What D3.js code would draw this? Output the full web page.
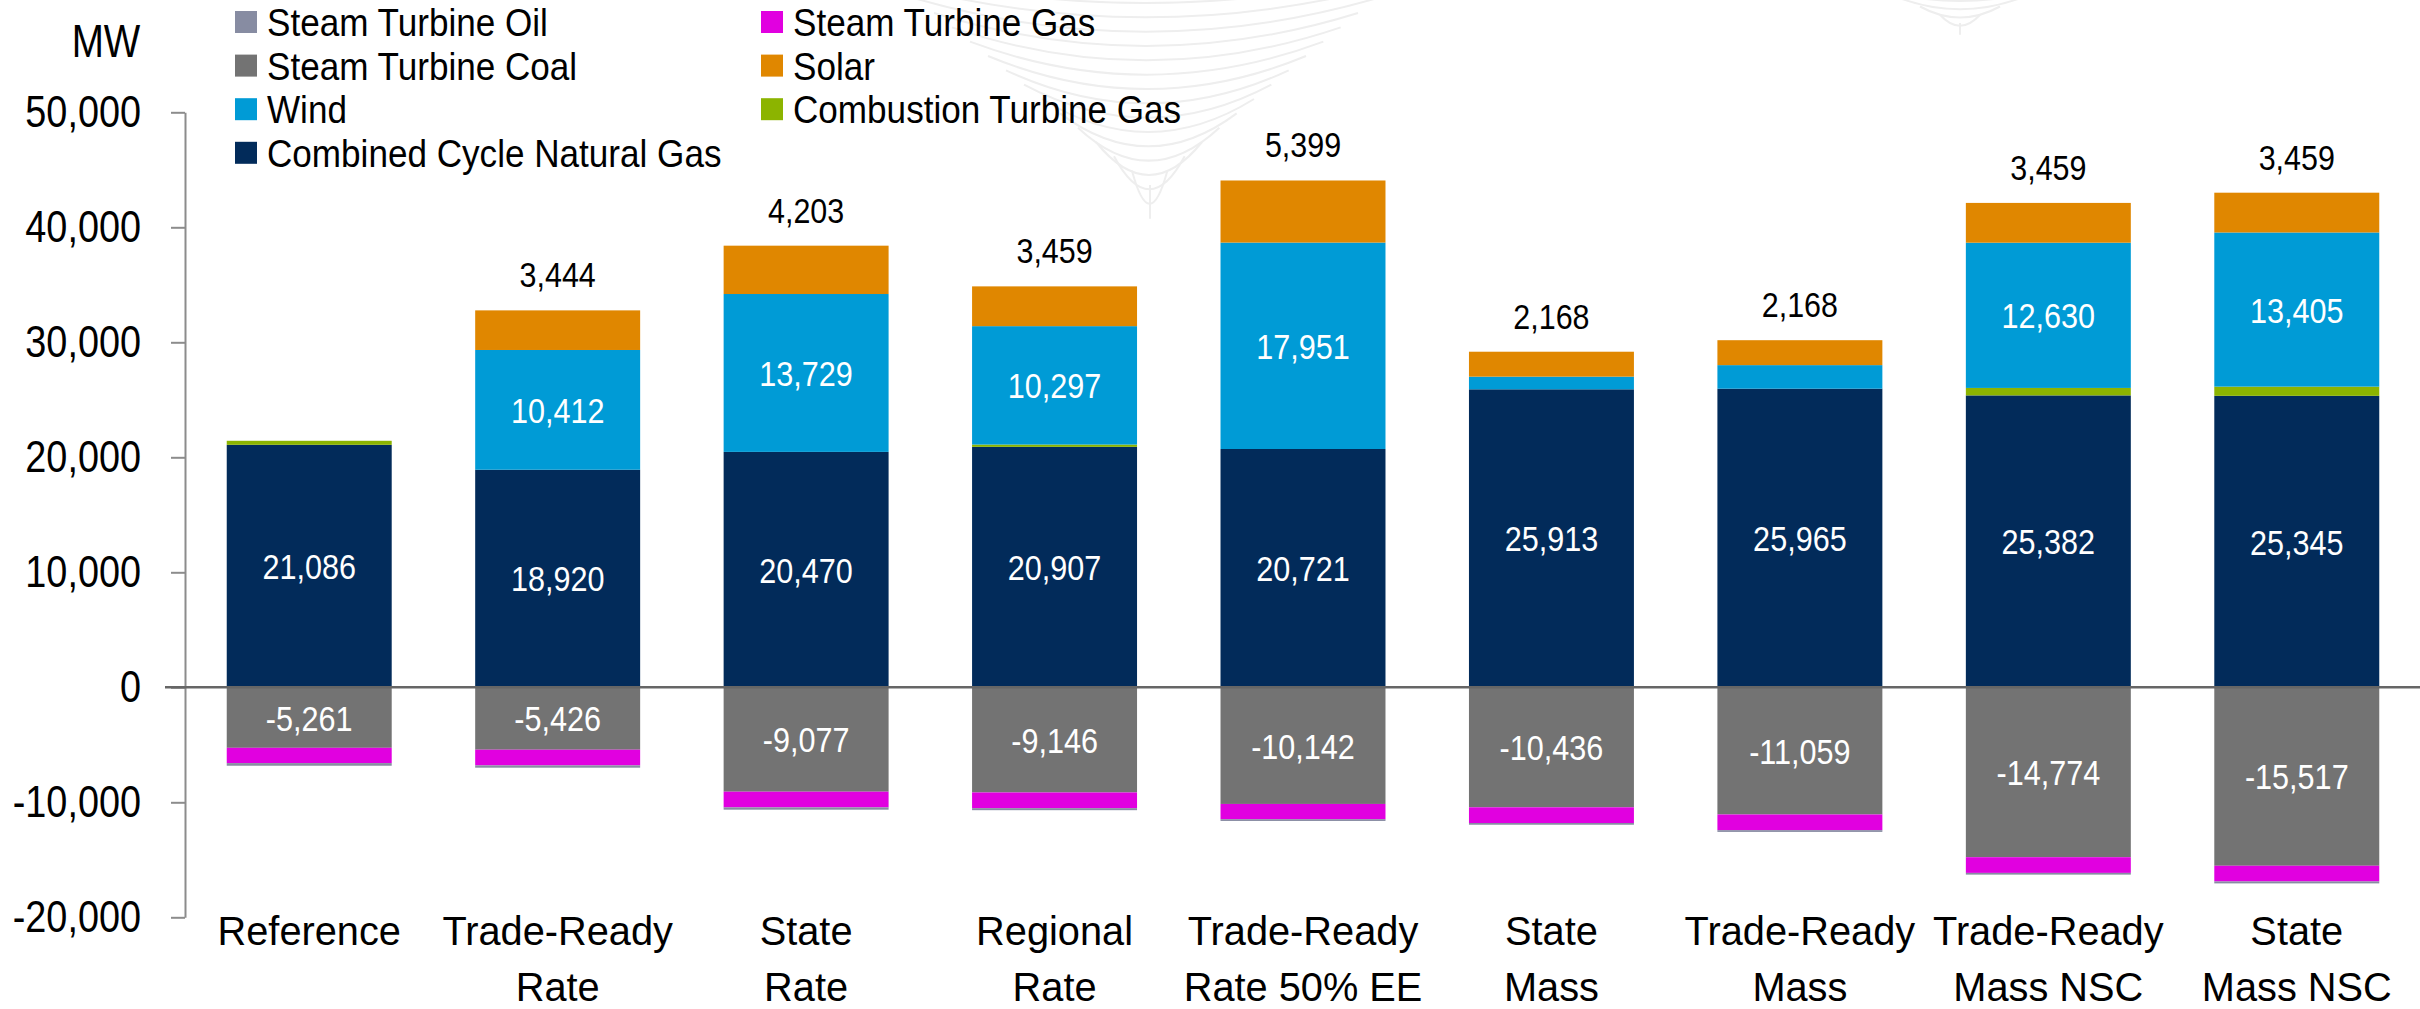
<!DOCTYPE html>
<html>
<head>
<meta charset="utf-8">
<script src="https://cdn.jsdelivr.net/npm/d3@7"></script>
<style>
  body { margin: 0; background: #fff; }
  text { font-family: "Liberation Sans", Arial, sans-serif; }
</style>
</head>
<body>
<script>
// scenarios (two-line labels split on \n)
var categories = ["Reference", "Trade-Ready\nRate", "State\nRate", "Regional\nRate",
  "Trade-Ready\nRate 50% EE", "State\nMass", "Trade-Ready\nMass", "Trade-Ready\nMass NSC", "State\nMass NSC"];

// MW change by technology
var ccng   = [21086, 18920, 20470, 20907, 20721, 25913, 25965, 25382, 25345];
var ctGas  = [350, 0, 0, 200, 0, 0, 0, 650, 800];
var wind   = [0, 10412, 13729, 10297, 17951, 1100, 2050, 12630, 13405];
var solar  = [0, 3444, 4203, 3459, 5399, 2168, 2168, 3459, 3459];
var stCoal = [-5261, -5426, -9077, -9146, -10142, -10436, -11059, -14774, -15517];
var stGas  = [-1330, -1365, -1365, -1365, -1330, -1365, -1365, -1365, -1365];
var stOil  = [-230, -200, -200, -175, -150, -150, -150, -150, -170];

var yTicks = [50000, 40000, 30000, 20000, 10000, 0, -10000, -20000];

var series = [
  {key: "ccng",   name: "Combined Cycle Natural Gas", color: "#022b5a", values: ccng},
  {key: "ctGas",  name: "Combustion Turbine Gas",     color: "#8cb400", values: ctGas},
  {key: "wind",   name: "Wind",                       color: "#009bd6", values: wind},
  {key: "solar",  name: "Solar",                      color: "#e08700", values: solar},
  {key: "stCoal", name: "Steam Turbine Coal",         color: "#737373", values: stCoal},
  {key: "stGas",  name: "Steam Turbine Gas",          color: "#e100e0", values: stGas},
  {key: "stOil",  name: "Steam Turbine Oil",          color: "#878ca2", values: stOil}
];
var legendCols = [["stOil", "stCoal", "wind", "ccng"], ["stGas", "solar", "ctGas"]];

var W = 2420, H = 1009;

var table = categories.map(function(c, i) {
  var row = {cat: c};
  series.forEach(function(s) { row[s.key] = s.values[i]; });
  return row;
});

var fmt = d3.formatLocale({decimal: ".", thousands: ",", grouping: [3], currency: ["", ""], minus: "-"}).format(",");

// turn x/y into a transform so the text can be squeezed horizontally (condensed typeface)
function narrow(sel, k) {
  sel.each(function() {
    var t = d3.select(this);
    var tx = +t.attr("x") || 0, ty = +t.attr("y") || 0;
    t.attr("x", null).attr("y", null)
      .attr("transform", "translate(" + tx + "," + ty + ") scale(" + k + ",1)");
  });
}

var svg = d3.select("body").append("svg")
  .attr("width", W)
  .attr("height", H);

svg.append("rect").attr("width", W).attr("height", H).attr("fill", "#fff");

// faint background swirl
var deco = svg.append("g").attr("fill", "none").attr("stroke", "#eeeeee").attr("stroke-width", 2);
function funnel(x1, x2, bx, by, n, dip) {
  for (var i = 0; i <= n; i++) {
    var t = i / n;
    var yl = t * by, xl = x1 + t * (bx - x1), xr = x2 - t * (x2 - bx);
    deco.append("path")
      .attr("d", "M" + xl + "," + (yl - dip) + "Q" + ((xl + xr) / 2) + "," + (yl + dip * 1.2) + " " + xr + "," + (yl - dip));
  }
}
funnel(880, 1410, 1150, 215, 15, 30);
funnel(1880, 2040, 1960, 33, 4, 10);

var x = d3.scaleBand()
  .domain(categories)
  .range([185, 2421])
  .paddingInner(0.336)
  .paddingOuter(0.168);

var y = d3.scaleLinear()
  .domain([-20000, 50000])
  .range([917.3, 112.3]);

var stack = d3.stack()
  .keys(series.map(function(s) { return s.key; }))
  .offset(d3.stackOffsetDiverging);
var stacked = stack(table);

// y axis
var yAxis = svg.append("g")
  .attr("transform", "translate(185,0)")
  .call(d3.axisLeft(y).tickValues(yTicks).tickFormat(fmt).tickSize(14).tickSizeOuter(0).tickPadding(30));
yAxis.select(".domain").attr("stroke", "#8c8c8c").attr("stroke-width", 2);
yAxis.selectAll(".tick line").attr("stroke", "#8c8c8c").attr("stroke-width", 2);
yAxis.selectAll(".tick text").attr("font-size", 44).attr("fill", "#000")
  .style("font-family", "'Liberation Sans', Arial, sans-serif")
  .call(narrow, 0.86);

svg.append("text").attr("x", 106).attr("y", 57).attr("text-anchor", "middle")
  .attr("font-size", 46).text("MW").call(narrow, 0.84);

// bars
var layers = svg.append("g").selectAll("g")
  .data(stacked)
  .enter().append("g")
  .attr("fill", function(d, i) { return series[i].color; });

layers.selectAll("rect")
  .data(function(d) { return d; })
  .enter().append("rect")
  .attr("x", function(d) { return x(d.data.cat); })
  .attr("width", x.bandwidth())
  .attr("y", function(d) { return y(Math.max(d[0], d[1])); })
  .attr("height", function(d) { return Math.abs(y(d[0]) - y(d[1])); });

// zero line
svg.append("line")
  .attr("x1", 165).attr("x2", W)
  .attr("y1", y(0)).attr("y2", y(0))
  .attr("stroke", "#666").attr("stroke-width", 2.5);

// value labels inside bars
var inside = ["ccng", "wind", "stCoal"];
stacked.forEach(function(layer) {
  if (inside.indexOf(layer.key) < 0) return;
  svg.append("g").selectAll("text")
    .data(layer.filter(function(d) { return Math.abs(d[1] - d[0]) >= 5000; }))
    .enter().append("text")
    .attr("x", function(d) { return x(d.data.cat) + x.bandwidth() / 2; })
    .attr("y", function(d) { return y((d[0] + d[1]) / 2); })
    .attr("dy", "0.36em")
    .attr("text-anchor", "middle")
    .attr("font-size", 36)
    .attr("fill", "#fff")
    .text(function(d) { return fmt(d.data[layer.key]); })
    .call(narrow, 0.85);
});

// solar totals above bars
var solarLayer = stacked[series.map(function(s) { return s.key; }).indexOf("solar")];
svg.append("g").selectAll("text")
  .data(solarLayer.filter(function(d) { return d.data.solar > 0; }))
  .enter().append("text")
  .attr("x", function(d) { return x(d.data.cat) + x.bandwidth() / 2; })
  .attr("y", function(d) { return y(d[1]) - 23; })
  .attr("text-anchor", "middle")
  .attr("font-size", 35)
  .attr("fill", "#000")
  .text(function(d) { return fmt(d.data.solar); })
  .call(narrow, 0.87);

// category labels, one text per line
var catLines = [];
categories.forEach(function(c) {
  c.split("\n").forEach(function(line, i) { catLines.push({cat: c, line: line, i: i}); });
});
svg.append("g").selectAll("text")
  .data(catLines)
  .enter().append("text")
  .attr("x", function(d) { return x(d.cat) + x.bandwidth() / 2; })
  .attr("y", function(d) { return 945 + d.i * 56; })
  .attr("text-anchor", "middle")
  .attr("font-size", 41)
  .attr("fill", "#000")
  .text(function(d) { return d.line; })
  .call(narrow, 0.97);

// legend
var colX = [235, 761];
legendCols.forEach(function(col, c) {
  col.forEach(function(key, r) {
    var s = series.filter(function(d) { return d.key === key; })[0];
    var cy = 22 + r * 43.6;
    svg.append("rect").attr("x", colX[c]).attr("y", cy - 11).attr("width", 22).attr("height", 22).attr("fill", s.color);
    svg.append("text").attr("x", colX[c] + 32).attr("y", cy).attr("dy", "0.36em")
      .attr("font-size", 39).attr("fill", "#000").text(s.name).call(narrow, 0.9);
  });
});
</script>
</body>
</html>
